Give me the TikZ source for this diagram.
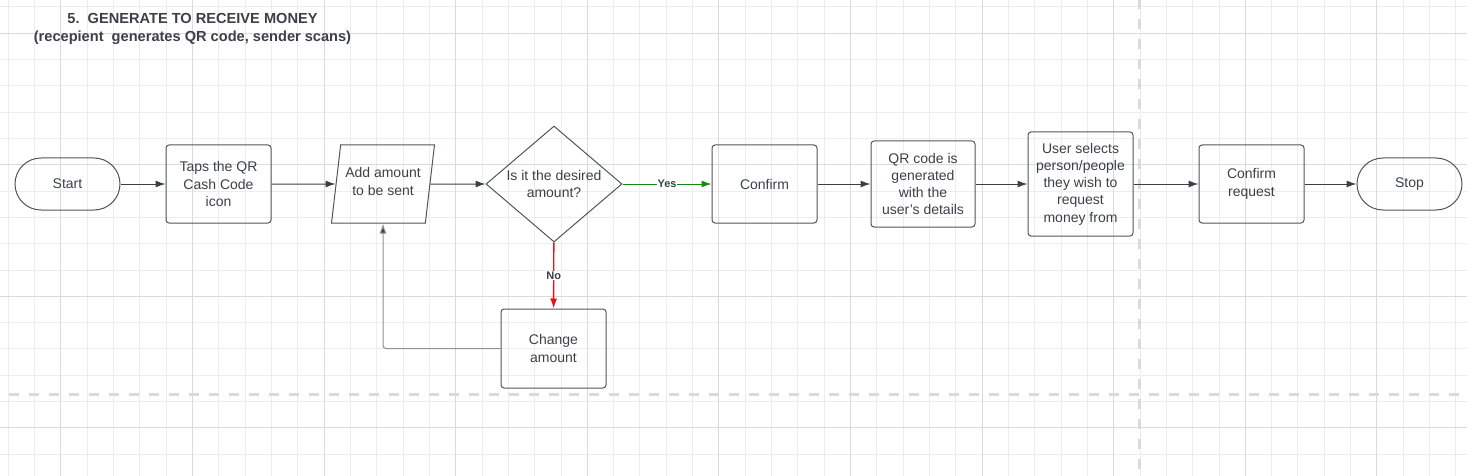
\documentclass[tikz,border=0pt]{standalone}
\usepackage{fontspec}
\setmainfont{Liberation Sans}
\usetikzlibrary{shapes.geometric,arrows.meta}
\definecolor{ink}{HTML}{3B4048}
\definecolor{edge}{HTML}{50555C}
\definecolor{fbgray}{HTML}{8E9196}
\definecolor{gridminor}{HTML}{EDEDED}
\definecolor{gridmajor}{HTML}{DADADA}
\definecolor{lane}{HTML}{DADADA}
\definecolor{yesgreen}{HTML}{138A13}
\definecolor{nored}{HTML}{E51515}

\begin{document}
\begin{tikzpicture}[x=1pt,y=-1pt,>={Latex[length=10pt,width=7pt]},
  font=\fontsize{14}{17.3}\selectfont,text=ink,
  box/.style={draw=edge,line width=1pt,rounded corners=3pt,minimum width=105pt,minimum height=78pt,align=center,inner sep=2pt},
  terminal/.style={draw=edge,line width=1pt,rounded corners=26pt,minimum width=105pt,minimum height=52pt},
  io/.style={draw=edge,line width=1pt,trapezium,trapezium left angle=76,trapezium right angle=104,trapezium stretches=true,minimum width=104pt,minimum height=78pt,align=center,inner sep=0pt},
  decision/.style={draw=edge,line width=1pt,diamond,minimum width=136pt,minimum height=116pt,align=center,inner sep=-6pt},
  flow/.style={draw=ink,line width=1pt,->},
  tag/.style={font=\bfseries\fontsize{11}{13}\selectfont,fill=white,inner sep=0.5pt}]
\useasboundingbox (0,0) rectangle (1467,476);
% background grid
\foreach \i in {0,...,55} \draw[gridminor,line width=1pt] (8.3+26.32*\i,0) -- ++(0,476);
\foreach \j in {0,...,17} \draw[gridminor,line width=1pt] (0,6.8+26.32*\j) -- ++(1467,0);
\foreach \i in {0,...,10} \draw[gridmajor,line width=1pt] (60.94+131.6*\i,0) -- ++(0,476);
\foreach \j in {0,...,3} \draw[gridmajor,line width=1pt] (0,33.1+131.6*\j) -- ++(1467,0);
\draw[lane,line width=3pt,dash pattern=on 10pt off 10pt] (9,394.7) -- (1467,394.7);
\draw[lane,line width=3pt,dash pattern=on 10pt off 10pt] (1139.3,-1) -- (1139.3,476);

\node[font=\bfseries\fontsize{14.6}{18}\selectfont,text=ink,align=center] (title) at (192.5,28.5) {5.\ \ GENERATE TO RECEIVE MONEY\\(recepient\ \ generates QR code, sender scans)};

\node[terminal] (start) at (67.5,184) {Start};
\node[box] (taps) at (218.5,184) {Taps the QR\\Cash Code\\icon};
\node[io] (amt) at (383,184) {Add amount\\to be sent\strut};
\node[decision] (dec) at (554,184) {Is it the desired\\amount?};
\node[box] (confirm) at (764.5,184) {Confirm};
\node[box,minimum width=104pt,minimum height=86pt] (qr) at (923,184) {QR code is\\generated\\with the\\user's details};
\node[box,minimum height=104pt] (user) at (1080.5,184) {User selects\\person/people\\they wish to\\request\\money from};
\node[box] (confreq) at (1251.5,184) {Confirm\\request};
\node[terminal] (stop) at (1409.5,184) {Stop};
\node[box,minimum height=79pt] (change) at (553.5,348.5) {Change\\amount};

\draw[flow] (start) -- (taps);
\draw[flow] (taps) -- (amt);
\draw[flow] (amt) -- (dec);
\draw[flow,draw=yesgreen] (dec) -- node[tag]{Yes} (confirm);
\draw[flow] (confirm) -- (qr);
\draw[flow] (qr) -- (user);
\draw[flow] (user) -- (confreq);
\draw[flow] (confreq) -- (stop);
\draw[flow,draw=nored,line width=1.4pt] (dec) -- node[tag]{No} (change);
\draw[line width=1pt,draw=fbgray,rounded corners=3pt,-{Latex[length=10pt,width=7pt,fill=ink]}] (change.west) -| (amt.south);
\end{tikzpicture}
\end{document}
